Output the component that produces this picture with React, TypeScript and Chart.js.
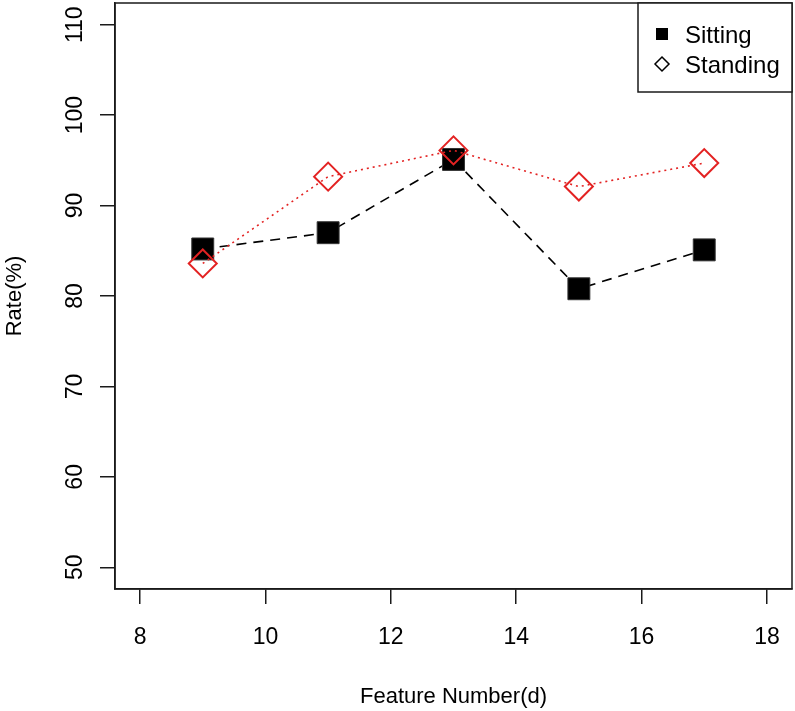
import React, { useEffect, useRef } from 'react';
import { Chart, registerables, LineController } from 'chart.js';

Chart.register(...registerables);
// keep the plot region exactly where the layout puts it (no extra padding for big markers)
(LineController.prototype as any).getMaxOverflow = function () {
  return 0;
};

const featureNumbers = [9, 11, 13, 15, 17];
const sittingRates = [85.2, 87.0, 95.1, 80.8, 85.1];
const standingRates = [83.6, 93.2, 96.1, 92.1, 94.7];
const xTickValues = [8, 10, 12, 14, 16, 18];
const yTickValues = [50, 60, 70, 80, 90, 100, 110];
const seriesNames = ['Sitting', 'Standing'];
const xTitle = 'Feature Number(d)';
const yTitle = 'Rate(%)';

const FONT = '"Liberation Sans", Arial, Helvetica, sans-serif';
const RED = '#e32222';
const AXIS = '#1a1a1a';

const rPlotPlugin = {
  id: 'rPlot',
  afterDraw(chart: any) {
    const { ctx, chartArea, scales } = chart;
    const xs = scales.x;
    const ys = scales.y;
    ctx.save();
    // plot box
    ctx.strokeStyle = AXIS;
    ctx.lineWidth = 1.5;
    ctx.strokeRect(chartArea.left, chartArea.top, chartArea.right - chartArea.left, chartArea.bottom - chartArea.top);

    ctx.fillStyle = '#000';
    // x tick labels
    ctx.font = `23px ${FONT}`;
    ctx.textAlign = 'center';
    ctx.textBaseline = 'alphabetic';
    xTickValues.forEach((v) => {
      ctx.fillText(String(v), xs.getPixelForValue(v), 644);
    });
    // y tick labels (rotated, R las=0)
    yTickValues.forEach((v) => {
      ctx.save();
      ctx.translate(82, ys.getPixelForValue(v));
      ctx.rotate(-Math.PI / 2);
      ctx.fillText(String(v), 0, 0);
      ctx.restore();
    });
    // titles
    ctx.font = `22px ${FONT}`;
    ctx.fillText(xTitle, (chartArea.left + chartArea.right) / 2, 703);
    ctx.save();
    ctx.translate(21, (chartArea.top + chartArea.bottom) / 2);
    ctx.rotate(-Math.PI / 2);
    ctx.fillText(yTitle, 0, 0);
    ctx.restore();

    // legend
    const lx = 638;
    const ly = chartArea.top;
    const lw = chartArea.right - lx;
    const lh = 89;
    ctx.fillStyle = '#fff';
    ctx.fillRect(lx, ly, lw, lh);
    ctx.strokeStyle = AXIS;
    ctx.lineWidth = 1.5;
    ctx.strokeRect(lx, ly, lw, lh);
    const rows = [ly + 31, ly + 61];
    // square marker
    ctx.fillStyle = '#000';
    ctx.fillRect(656, rows[0] - 6, 12, 12);
    // diamond marker
    ctx.beginPath();
    ctx.moveTo(662, rows[1] - 7);
    ctx.lineTo(669, rows[1]);
    ctx.lineTo(662, rows[1] + 7);
    ctx.lineTo(655, rows[1]);
    ctx.closePath();
    ctx.strokeStyle = '#000';
    ctx.lineWidth = 1.5;
    ctx.stroke();
    ctx.font = `24px ${FONT}`;
    ctx.textAlign = 'left';
    ctx.textBaseline = 'alphabetic';
    ctx.fillStyle = '#000';
    ctx.fillText(seriesNames[0], 685, rows[0] + 9);
    ctx.fillText(seriesNames[1], 685, rows[1] + 9);
    ctx.restore();
  },
};

export default function App() {
  const canvasRef = useRef<HTMLCanvasElement | null>(null);

  useEffect(() => {
    document.body.style.margin = '0';
    const canvas = canvasRef.current;
    if (!canvas) return;
    const chart = new Chart(canvas, {
      type: 'line',
      data: {
        datasets: [
          {
            label: seriesNames[1],
            data: featureNumbers.map((x, i) => ({ x, y: standingRates[i] })),
            borderColor: RED,
            borderWidth: 1.6,
            borderDash: [2, 4],
            pointStyle: 'rectRot',
            pointRadius: 14,
            pointHoverRadius: 14,
            pointBackgroundColor: 'rgba(0,0,0,0)',
            pointBorderColor: RED,
            pointBorderWidth: 2,
            fill: false,
            tension: 0,
            clip: false,
            order: 0,
          },
          {
            label: seriesNames[0],
            data: featureNumbers.map((x, i) => ({ x, y: sittingRates[i] })),
            borderColor: '#000',
            borderWidth: 1.6,
            borderDash: [10, 7],
            pointStyle: 'rect',
            pointRadius: 15.5,
            pointHoverRadius: 15.5,
            pointBackgroundColor: '#000',
            pointBorderColor: '#333',
            pointBorderWidth: 1,
            fill: false,
            tension: 0,
            clip: false,
            order: 1,
          },
        ],
      },
      options: {
        animation: false,
        responsive: false,
        maintainAspectRatio: false,
        layout: { padding: { top: 3, right: 3, left: 0, bottom: 0 } },
        plugins: {
          legend: { display: false },
          tooltip: { enabled: false },
          title: { display: false },
        },
        events: [],
        scales: {
          x: {
            type: 'linear',
            min: 7.6,
            max: 18.4,
            afterBuildTicks: (scale: any) => {
              scale.ticks = xTickValues.map((value) => ({ value }));
            },
            afterFit: (scale: any) => {
              scale.height = 122;
            },
            ticks: { display: false },
            grid: {
              drawOnChartArea: false,
              drawTicks: true,
              tickLength: 15,
              color: AXIS,
              lineWidth: 1.5,
            },
            border: { display: true, color: AXIS, width: 1.5 },
          },
          y: {
            type: 'linear',
            min: 47.6,
            max: 112.4,
            afterBuildTicks: (scale: any) => {
              scale.ticks = yTickValues.map((value) => ({ value }));
            },
            afterFit: (scale: any) => {
              scale.width = 115;
            },
            ticks: { display: false },
            grid: {
              drawOnChartArea: false,
              drawTicks: true,
              tickLength: 15,
              color: AXIS,
              lineWidth: 1.5,
            },
            border: { display: true, color: AXIS, width: 1.5 },
          },
        },
      },
      plugins: [rPlotPlugin],
    });
    return () => chart.destroy();
  }, []);

  return (
    <div style={{ position: 'absolute', left: 0, top: 0, width: 795, height: 711, background: '#fff' }}>
      <canvas ref={canvasRef} width={795} height={711} style={{ display: 'block', width: 795, height: 711 }} />
    </div>
  );
}
